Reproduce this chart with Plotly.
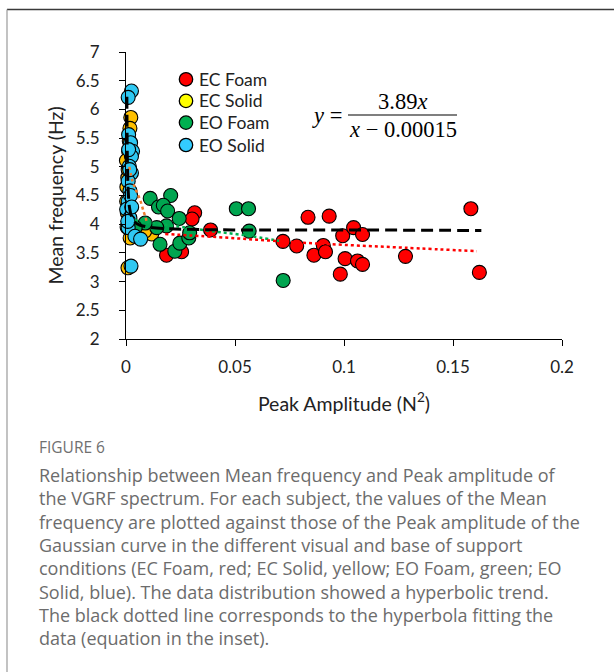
import plotly.graph_objects as go

# ---------------- data ----------------
ec_foam_x = [0.0315, 0.0303, 0.0388, 0.0186, 0.0255, 0.0720, 0.0783, 0.0835, 0.0862, 0.0905,
             0.0915, 0.0932, 0.0983, 0.1005, 0.0994, 0.1044, 0.1062, 0.1085, 0.1085, 0.1282,
             0.1582, 0.1621]
ec_foam_y = [4.20, 4.09, 3.90, 3.46, 3.52, 3.70, 3.62, 4.12, 3.46, 3.63,
             3.52, 4.14, 3.13, 3.40, 3.80, 3.94, 3.36, 3.30, 3.82, 3.44,
             4.27, 3.16]

ec_solid_x = [0.0022, 0.0018, 0.0012, 0.0002, 0.0008, 0.0004, 0.0003, 0.0006, 0.0019, 0.0118,
              0.0009, 0.0015, 0.0010, 0.0005, 0.0086]
ec_solid_y = [5.86, 5.67, 5.27, 5.11, 4.81, 4.65, 4.40, 4.20, 3.76, 3.83,
              3.24, 5.45, 4.95, 3.95, 3.88]

eo_foam_x = [0.0111, 0.0205, 0.0149, 0.0171, 0.0191, 0.0244, 0.0506, 0.0562, 0.0565, 0.0156,
             0.0224, 0.0247, 0.0288, 0.0292, 0.0186, 0.0141, 0.0088, 0.0042, 0.0721]
eo_foam_y = [4.45, 4.50, 4.30, 4.33, 4.23, 4.10, 4.27, 4.27, 3.88, 3.65,
             3.53, 3.67, 3.76, 3.85, 3.97, 3.94, 4.02, 3.94, 3.02]

eo_solid_x = [0.0025, 0.0010, 0.0012, 0.0021, 0.0030, 0.0025, 0.0015, 0.0025, 0.0010, 0.0018,
              0.0010, 0.0003, 0.0018, 0.0012, 0.0010, 0.0041, 0.0067, 0.0023, 0.0012, 0.0017,
              0.0021, 0.0026, 0.0008]
eo_solid_y = [6.32, 6.21, 5.56, 5.42, 5.27, 5.18, 5.01, 4.89, 4.75, 4.58,
              4.40, 4.26, 4.11, 4.05, 3.94, 3.79, 3.74, 3.27, 5.30, 4.95,
              4.50, 4.30, 4.05]

# trend lines
hyper_x = [0.00040, 0.00045, 0.0005, 0.0006, 0.0008, 0.001, 0.0015, 0.002, 0.003, 0.005,
           0.01, 0.02, 0.05, 0.1, 0.163]
hyper_y = [6.22, 5.84, 5.56, 5.19, 4.79, 4.58, 4.32, 4.21, 4.10, 4.01,
           3.95, 3.92, 3.90, 3.90, 3.89]
red_trend_x = [0.018, 0.04, 0.06, 0.08, 0.10, 0.128, 0.161]
red_trend_y = [3.83, 3.78, 3.73, 3.68, 3.64, 3.59, 3.53]
green_trend_x = [0.004, 0.009, 0.024, 0.039, 0.054, 0.072]
green_trend_y = [4.07, 4.04, 3.96, 3.88, 3.81, 3.70]
orange_trend_x = [0.0015, 0.003, 0.0045, 0.0065, 0.008, 0.0095]
orange_trend_y = [5.00, 4.75, 4.60, 4.42, 4.23, 4.05]

series_names = ["EC Foam", "EC Solid", "EO Foam", "EO Solid"]
x_ticks = [0, 0.05, 0.1, 0.15, 0.2]
x_tick_text = ["0", "0.05", "0.1", "0.15", "0.2"]
y_ticks = [2, 2.5, 3, 3.5, 4, 4.5, 5, 5.5, 6, 6.5, 7]
y_tick_text = ["2", "2.5", "3", "3.5", "4", "4.5", "5", "5.5", "6", "6.5", "7"]

caption_title = "FIGURE 6"
caption_lines = [
    "Relationship between Mean frequency and Peak amplitude of",
    "the VGRF spectrum. For each subject, the values of the Mean",
    "frequency are plotted against those of the Peak amplitude of the",
    "Gaussian curve in the different visual and base of support",
    "conditions (EC Foam, red; EC Solid, yellow; EO Foam, green; EO",
    "Solid, blue). The data distribution showed a hyperbolic trend.",
    "The black dotted line corresponds to the hyperbola fitting the",
    "data (equation in the inset).",
]

# ---------------- styling ----------------
W, H = 614, 672
L, R, T, B = 126, 52, 52, 333
PW, PH = W - L - R, H - T - B


def pxx(p):
    return (p - L) / PW


def pyy(p):
    return (H - B - p) / PH


plot_colors = ["#FF0000", "#FFC000", "#00A550", "#2FC8F2"]
legend_colors = ["#FF0000", "#FFFF00", "#00B050", "#33CCFF"]
FONT = "Lato, 'Open Sans', sans-serif"
TXT = "#222222"

fig = go.Figure()
mk = dict(size=14, line=dict(color="black", width=1.1))
for nm, xs, ys, c in zip(series_names,
                         [ec_foam_x, ec_solid_x, eo_foam_x, eo_solid_x],
                         [ec_foam_y, ec_solid_y, eo_foam_y, eo_solid_y],
                         plot_colors):
    fig.add_trace(go.Scatter(x=xs, y=ys, mode="markers", name=nm, showlegend=False,
                             marker=dict(color=c, **mk), cliponaxis=False))

fig.add_trace(go.Scatter(x=orange_trend_x, y=orange_trend_y, mode="lines", showlegend=False,
                         line=dict(color="#ED7D31", width=2.5, dash="dot"), line_shape="spline"))
fig.add_trace(go.Scatter(x=green_trend_x, y=green_trend_y, mode="lines", showlegend=False,
                         line=dict(color="#00B050", width=2.5, dash="dot"), line_shape="spline"))
fig.add_trace(go.Scatter(x=red_trend_x, y=red_trend_y, mode="lines", showlegend=False,
                         line=dict(color="#FF0000", width=2.5, dash="dot"), line_shape="spline"))
fig.add_trace(go.Scatter(x=hyper_x, y=hyper_y, mode="lines", showlegend=False,
                         line=dict(color="black", width=3, dash="12px,6px"), line_shape="spline"))

axis_common = dict(showgrid=False, zeroline=False, showline=True, linecolor="black", linewidth=1,
                   ticks="outside", ticklen=6, tickcolor="black", tickwidth=1,
                   tickfont=dict(family=FONT, size=17, color=TXT))

fig.update_layout(
    width=W, height=H,
    margin=dict(l=L, r=R, t=T, b=B, pad=0),
    paper_bgcolor="white", plot_bgcolor="white",
    font=dict(family=FONT, color=TXT),
    xaxis=dict(range=[0, 0.2], tickvals=x_ticks, ticktext=x_tick_text,
               title=dict(text="Peak Amplitude (N<sup>2</sup>)", standoff=20,
                          font=dict(family=FONT, size=19.5, color=TXT)),
               ticklabelstandoff=7, **axis_common),
    yaxis=dict(range=[2, 7], tickvals=y_ticks, ticktext=y_tick_text,
               title=dict(text="Mean frequency (Hz)", standoff=7,
                          font=dict(family=FONT, size=19.5, color=TXT)),
               ticklabelstandoff=16, **axis_common),
    showlegend=False,
)

# legend (drawn manually so rows sit as tight as in the reference)
leg_rows = [79.3, 100.9, 122.6, 145.0]
for nm, c, yy in zip(series_names, legend_colors, leg_rows):
    fig.add_shape(type="circle", xref="paper", yref="paper", xsizemode="pixel", ysizemode="pixel",
                  xanchor=pxx(186), yanchor=pyy(yy), x0=-6.7, x1=6.7, y0=-6.7, y1=6.7,
                  fillcolor=c, line=dict(color="black", width=1.3))
    fig.add_annotation(xref="paper", yref="paper", x=pxx(197), y=pyy(yy), text=nm,
                       showarrow=False, xanchor="left", yanchor="middle",
                       font=dict(family=FONT, size=17.5, color=TXT))

# equation inset
EQF = "'Liberation Serif', 'DejaVu Serif', serif"
fig.add_annotation(xref="paper", yref="paper", x=pxx(327), y=pyy(115), text="<i>y</i> =",
                   showarrow=False, font=dict(family=EQF, size=22.5, color="black"),
                   xanchor="center", yanchor="middle")
fig.add_annotation(xref="paper", yref="paper", x=pxx(402.5), y=pyy(101), text="3.89<i>x</i>",
                   showarrow=False, font=dict(family=EQF, size=22.5, color="black"),
                   xanchor="center", yanchor="middle")
fig.add_annotation(xref="paper", yref="paper", x=pxx(402.5), y=pyy(129), text="<i>x</i> − 0.00015",
                   showarrow=False, font=dict(family=EQF, size=22.5, color="black"),
                   xanchor="center", yanchor="middle")
fig.add_shape(type="line", xref="paper", yref="paper", x0=pxx(348), x1=pxx(457),
              y0=pyy(115), y1=pyy(115), line=dict(color="black", width=1.2))

# outer frame (top and left)
fig.add_shape(type="line", xref="paper", yref="paper", x0=pxx(7), x1=pxx(614),
              y0=pyy(9.5), y1=pyy(9.5), line=dict(color="#3a3a3a", width=1.5))
fig.add_shape(type="line", xref="paper", yref="paper", x0=pxx(7), x1=pxx(7),
              y0=pyy(9.5), y1=pyy(672), line=dict(color="#9a9a9a", width=1.2))

# caption
CAPF = "'Open Sans', sans-serif"
fig.add_annotation(xref="paper", yref="paper", x=pxx(37), y=pyy(447), text=caption_title,
                   showarrow=False, xanchor="left", yanchor="middle",
                   font=dict(family=CAPF, size=15.5, color="#707070"))
for i, line in enumerate(caption_lines):
    fig.add_annotation(xref="paper", yref="paper", x=pxx(37), y=pyy(475 + i * 23.3), text=line,
                       showarrow=False, xanchor="left", yanchor="middle",
                       font=dict(family=CAPF, size=18, color="#6c6c6c"))

fig.write_html("out.html", config={"displayModeBar": False},
               post_script="document.body.style.margin='0';document.body.style.overflow='hidden';")
